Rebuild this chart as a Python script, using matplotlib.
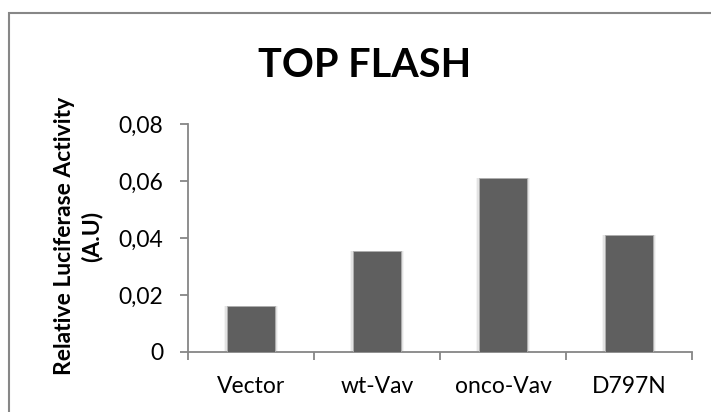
import matplotlib
matplotlib.use("Agg")
import matplotlib.pyplot as plt
from matplotlib.patches import Rectangle
import numpy as np

plt.rcParams['font.family'] = ['Lato', 'DejaVu Sans']

categories = ["Vector", "wt-Vav", "onco-Vav", "D797N"]
activity = [0.016, 0.0355, 0.061, 0.041]
y_ticks = [0, 0.02, 0.04, 0.06, 0.08]
y_tick_labels = ["0", "0,02", "0,04", "0,06", "0,08"]

W, H = 711, 412
fig = plt.figure(figsize=(W / 100, H / 100), dpi=100)

# chart-area frame
fig.add_artist(Rectangle((9 / W, -0.1), 1.2, 1 - 12.5 / H + 0.1,
                         transform=fig.transFigure, fill=False,
                         edgecolor="#878787", linewidth=1.5))

ax = fig.add_axes([188 / W, 60 / H, 504 / W, 228 / H])
x = np.arange(len(categories))
bw = 0.38

# soft shadow behind each column
for extra, alpha in [(0.05, 0.10), (0.03, 0.18)]:
    ax.bar(x, activity, width=bw + extra, color="#9a9a9a", alpha=alpha,
           linewidth=0, zorder=2)
ax.bar(x, activity, width=bw, color="#5f5f5f", edgecolor="#b0b0b0",
       linewidth=0.6, zorder=3)

ax.set_xlim(-0.5, len(categories) - 0.5)
ax.set_ylim(0, 0.08)

for side in ["top", "right"]:
    ax.spines[side].set_visible(False)
for side in ["left", "bottom"]:
    ax.spines[side].set_color("#868686")
    ax.spines[side].set_linewidth(1.3)

ax.set_yticks(y_ticks)
ax.set_yticklabels(y_tick_labels)
ax.tick_params(axis="y", length=6, width=1.3, color="#868686",
               labelsize=16.5, pad=12)

ax.set_xticks(x)
ax.set_xticklabels(categories)
ax.set_xticks(np.arange(len(categories) + 1) - 0.5, minor=True)
ax.tick_params(axis="x", which="major", length=0, labelsize=16.5, pad=17)
ax.tick_params(axis="x", which="minor", length=6, width=1.3, color="#868686")

ax.set_ylabel("Relative Luciferase Activity\n(A.U)", fontsize=16.5,
              fontweight="bold", linespacing=1.3, va="center")
ax.yaxis.set_label_coords((78 - 188) / 504, (352 - 236) / 228)

fig.text(365 / W, 1 - 77 / H, "TOP FLASH", ha="center", va="baseline",
         fontsize=28.5, fontweight="bold")

fig.savefig("out.png", dpi=100)
